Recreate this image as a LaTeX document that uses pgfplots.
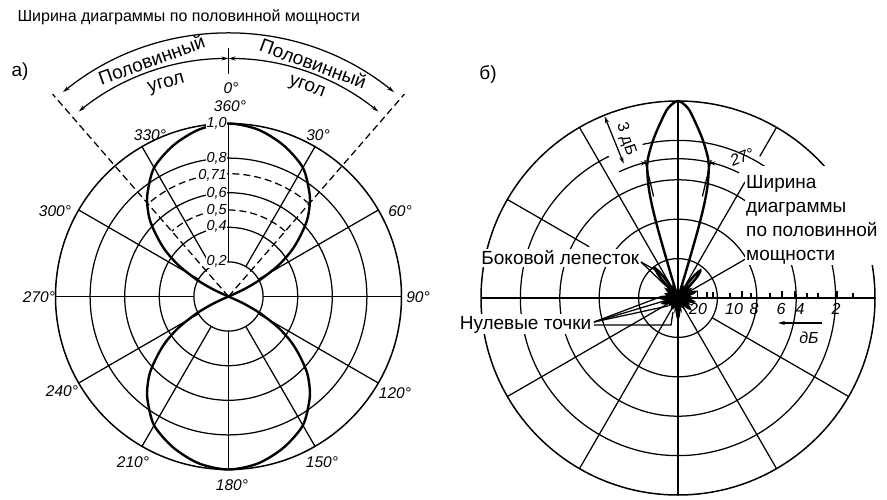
\documentclass[border=0pt]{standalone}
\usepackage{fontspec}
\setmainfont{Liberation Sans}
\usepackage{pgfplots}
\pgfplotsset{compat=1.18}
\usepgfplotslibrary{polar}
\usetikzlibrary{arrows.meta}
\newcommand\lab{\fontsize{19}{22}\selectfont}
\newcommand\ang{\fontsize{15.5}{18}\selectfont\itshape}
\newcommand\rl{\fontsize{14.5}{16}\selectfont\itshape}
\newcommand\db{\fontsize{16}{18}\selectfont\itshape}
\pgfplotsset{pat/.style={line width=2.4pt, smooth, tension=0.5, mark=none, x filter/.expression={90-x}}}
\begin{document}
\begin{tikzpicture}[x=1pt,y=1pt,
  gl/.style={line width=1.25pt},
  ar/.style={-{Stealth[length=7pt,width=4pt]}},
  arr/.style={{Stealth[length=7pt,width=4pt]}-{Stealth[length=7pt,width=4pt]}}]
\path[use as bounding box] (0,0) rectangle (887,499);

% ---------------- (a) ----------------
\begin{polaraxis}[at={(228.5pt,202.5pt)}, anchor=center, scale only axis,
  width=346pt, height=346pt, ymin=0, ymax=1, hide axis, clip=false]
\draw[gl] (axis cs:0,0.2) -- (axis cs:0,1);
\draw[gl] (axis cs:30,0.2) -- (axis cs:30,1);
\draw[gl] (axis cs:60,0.2) -- (axis cs:60,1);
\draw[gl] (axis cs:90,0.2) -- (axis cs:90,1);
\draw[gl] (axis cs:120,0.2) -- (axis cs:120,1);
\draw[gl] (axis cs:150,0.2) -- (axis cs:150,1);
\draw[gl] (axis cs:180,0.2) -- (axis cs:180,1);
\draw[gl] (axis cs:210,0.2) -- (axis cs:210,1);
\draw[gl] (axis cs:240,0.2) -- (axis cs:240,1);
\draw[gl] (axis cs:270,0.2) -- (axis cs:270,1);
\draw[gl] (axis cs:300,0.2) -- (axis cs:300,1);
\draw[gl] (axis cs:330,0.2) -- (axis cs:330,1);
\draw[gl] (axis cs:0,0) circle[radius=34.6pt];
\draw[gl] (axis cs:0,0) circle[radius=69.2pt];
\draw[gl] (axis cs:0,0) circle[radius=103.8pt];
\draw[gl] (axis cs:0,0) circle[radius=138.4pt];
\draw[line width=1.5pt] (axis cs:0,0) circle[radius=173pt];
\draw[gl,dash pattern=on 7pt off 4pt] (axis cs:0,0) -- (axis cs:49,1.55);
\draw[gl,dash pattern=on 7pt off 4pt] (axis cs:0,0) -- (axis cs:131,1.55);
\draw[gl,dash pattern=on 7pt off 4pt] (axis cs:49,0.5) arc[start angle=49,end angle=131,radius=86.5pt];
\draw[gl,dash pattern=on 7pt off 4pt] (axis cs:49,0.71) arc[start angle=49,end angle=131,radius=122.8pt];
\addplot[pat] coordinates {(-67,0) (-65,0.1) (-62,0.21) (-58,0.34) (-54,0.45) (-50,0.54) (-46,0.63) (-42,0.70) (-38,0.76) (-30,0.86) (-20,0.93) (-10,0.98) (0,1) (10,0.98) (20,0.93) (30,0.86) (38,0.76) (42,0.70) (46,0.63) (50,0.54) (54,0.45) (58,0.34) (62,0.21) (65,0.1) (67,0)};
\addplot[pat] coordinates {(113,0) (115,0.1) (118,0.21) (122,0.34) (126,0.45) (130,0.54) (134,0.63) (138,0.70) (142,0.76) (150,0.86) (160,0.93) (170,0.98) (180,1) (190,0.98) (200,0.93) (210,0.86) (218,0.76) (222,0.70) (226,0.63) (230,0.54) (234,0.45) (238,0.34) (242,0.21) (245,0.1) (247,0)};
\end{polaraxis}

% (a) labels
\node[anchor=base west] at (14,477) {\fontsize{16}{19}\selectfont Ширина диаграммы по половинной мощности};
\node at (20,427) {\lab а)};
\node at (488,424) {\lab б)};
\node at (231,411) {\ang 0°};
\node at (230,393) {\ang 360°};
\node at (150,364) {\ang 330°};
\node at (318,364) {\ang 30°};
\node at (55,288) {\ang 300°};
\node at (400,288) {\ang 60°};
\node at (39,202) {\ang 270°};
\node at (418,202) {\ang 90°};
\node at (62,108) {\ang 240°};
\node at (395,106) {\ang 120°};
\node at (133,37) {\ang 210°};
\node at (322,37) {\ang 150°};
\node at (232,14) {\ang 180°};
\node[anchor=east,fill=white,inner sep=0.6pt] at (227.5,376) {\rl 1,0};
\node[anchor=east,fill=white,inner sep=0.6pt] at (227.5,341) {\rl 0,8};
\node[anchor=east,fill=white,inner sep=0.6pt] at (227.5,324) {\rl 0,71};
\node[anchor=east,fill=white,inner sep=0.6pt] at (227.5,306) {\rl 0,6};
\node[anchor=east,fill=white,inner sep=0.6pt] at (227.5,289) {\rl 0,5};
\node[anchor=east,fill=white,inner sep=0.6pt] at (227.5,273) {\rl 0,4};
\node[anchor=east,fill=white,inner sep=0.6pt] at (227.5,238) {\rl 0,2};
\begin{scope}[shift={(228.5,202.5)}]
  \draw[gl,arr] (129:263) arc[start angle=129,end angle=51,radius=263pt];
  \draw[gl,arr] (129:238) arc[start angle=129,end angle=90,radius=238pt];
  \draw[gl,arr] (90:238) arc[start angle=90,end angle=51,radius=238pt];
  \draw[gl] (90:222) -- (90:248);
  \node[rotate=20,inner sep=0pt] at (108:249) {\lab Половинный};
  \node[rotate=-20,inner sep=0pt] at (70:248) {\lab Половинный};
  \node[rotate=16,inner sep=0pt] at (106.3:221) {\lab угол};
  \node[rotate=-20,inner sep=0pt] at (69.5:223) {\lab угол};
\end{scope}

% ---------------- (b) ----------------
\begin{polaraxis}[at={(678pt,201pt)}, anchor=center, scale only axis,
  width=394pt, height=394pt, ymin=0, ymax=1, hide axis, clip=false]
\draw[gl] (axis cs:0,0) circle[radius=39.4pt];
\draw[gl] (axis cs:0,0) circle[radius=78.8pt];
\draw[gl] (axis cs:0,0) circle[radius=118.2pt];
\draw[gl] (axis cs:103,0.8) arc[start angle=103,end angle=-244,radius=157.6pt];
\draw[line width=1.5pt] (axis cs:0,0) circle[radius=197pt];
\draw[gl] (axis cs:90,0) -- (axis cs:90,1);
\draw[gl] (axis cs:60,0) -- (axis cs:60,0.68);
\draw[gl] (axis cs:60,0.83) -- (axis cs:60,1);
\draw[gl] (axis cs:30,0) -- (axis cs:30,1);
\draw[gl] (axis cs:0,0) -- (axis cs:0,1);
\draw[gl] (axis cs:180,0) -- (axis cs:180,1);
\draw[gl] (axis cs:-30,0.2) -- (axis cs:-30,1);
\draw[gl] (axis cs:-60,0) -- (axis cs:-60,1);
\draw[gl] (axis cs:-90,0) -- (axis cs:-90,1);
\draw[gl] (axis cs:-120,0) -- (axis cs:-120,1);
\draw[gl] (axis cs:-150,0) -- (axis cs:-150,1);
\draw[gl] (axis cs:150,0.52) -- (axis cs:150,1);
\draw[gl] (axis cs:120,0) -- (axis cs:120,1);
% half power
\draw[gl] (axis cs:103.5,0.53) -- (axis cs:103.5,0.72);
\draw[gl] (axis cs:76.5,0.53) -- (axis cs:76.5,0.72);
\draw[gl,ar] (axis cs:115,0.707) arc[start angle=115,end angle=102.6,radius=139.3pt];
\draw[gl] (axis cs:102.6,0.707) arc[start angle=102.6,end angle=77.4,radius=139.3pt];
\draw[gl,ar] (axis cs:64,0.707) arc[start angle=64,end angle=77.4,radius=139.3pt];
\draw[gl,arr] (axis cs:112,0.995) -- (axis cs:112,0.735);
% dB scale ticks
\draw[gl] (axis cs:0,0.10) -- ++(0pt,7pt);
\draw[gl] (axis cs:0,0.147) -- ++(0pt,6pt);
\draw[gl] (axis cs:0,0.178) -- ++(0pt,6pt);
\draw[gl] (axis cs:0,0.264) -- ++(0pt,5pt);
\draw[gl] (axis cs:0,0.325) -- ++(0pt,7pt);
\draw[gl] (axis cs:0,0.37) -- ++(0pt,5pt);
\draw[gl] (axis cs:0,0.40) -- ++(0pt,7pt);
\draw[gl] (axis cs:0,0.467) -- ++(0pt,5pt);
\draw[gl] (axis cs:0,0.528) -- ++(0pt,7pt);
\draw[gl] (axis cs:0,0.594) -- ++(0pt,7pt);
\draw[gl] (axis cs:0,0.655) -- ++(0pt,5pt);
\draw[gl] (axis cs:0,0.711) -- ++(0pt,5pt);
\draw[gl] (axis cs:0,0.807) -- ++(0pt,7pt);
\draw[gl] (axis cs:0,0.888) -- ++(0pt,5pt);
\addplot[pat] coordinates {(-172,0) (-169,0.03) (-166,0.04) (-163,0.03)
 (-160,0) (-155,0.045) (-150,0.06) (-145,0.045)
 (-140,0) (-135,0.035) (-130,0.05) (-125,0.035)
 (-120,0) (-114,0.06) (-109,0.08) (-104,0.06)
 (-98,0) (-94,0.065) (-89,0.09) (-84,0.065)
 (-80,0) (-75,0.045) (-71,0.06) (-67,0.045)
 (-62,0) (-57,0.05) (-53,0.07) (-49,0.05)
 (-44,0) (-42,0.1) (-40,0.16) (-37.5,0.19) (-35,0.15) (-32.5,0.08)
 (-30,0) (-27,0.035) (-23.5,0.05) (-20,0.035)
 (-17,0) (-16.8,0.12) (-16.5,0.25) (-16.2,0.38) (-15.6,0.5) (-14.6,0.6) (-12.6,0.71) (-9,0.81) (-5.5,0.9) (-3,0.965) (0,1) (3,0.965) (5.5,0.9) (9,0.81) (12.6,0.71) (14.6,0.6) (15.6,0.5) (16.2,0.38) (16.5,0.25) (16.8,0.12) (17,0)
 (20,0.035) (24,0.05) (28,0.035)
 (31,0) (33.5,0.08) (36,0.14) (39,0.18) (42,0.15) (44,0.08)
 (46,0) (50,0.05) (54,0.07) (58,0.05)
 (62,0) (66,0.065) (70,0.09) (74,0.065)
 (78,0) (82,0.045) (86,0.06) (90,0.045)
 (95,0) (99,0.06) (103,0.08) (107,0.06)
 (112,0) (115,0.035) (118,0.05) (121,0.035)
 (124,0) (128,0.06) (132,0.08) (136,0.06)
 (140,0) (145,0.035) (150,0.05) (155,0.035)
 (160,0) (163,0.03) (166,0.04) (169,0.03)
 (172,0) (175,0.07) (180,0.1) (185,0.07) (188,0)};
\end{polaraxis}

% (b) labels
\fill[white] (745,333) rectangle (887,234);
\node[anchor=base west,inner sep=0pt] at (746,310) {\lab Ширина};
\node[anchor=base west,inner sep=0pt] at (746,286) {\lab диаграммы};
\node[anchor=base west,inner sep=0pt] at (746,262) {\lab по половинной};
\node[anchor=base west,inner sep=0pt] at (746,238) {\lab мощности};
\node[anchor=base east,fill=white,inner sep=1.5pt] at (641,234) {\lab Боковой лепесток};
\node[anchor=base east,fill=white,inner sep=1.5pt] at (593,170) {\lab Нулевые точки};
\draw[gl] (641,237) -- (657,228);
\draw[gl] (641,237) -- (666,213);
\draw[gl] (594,177) -- (660,202);
\draw[gl] (594,177) -- (664,198);
\draw[gl] (594,177) -- (668,193);
\draw[gl] (594,174) -- (671,174) -- (673,187);
\node[anchor=north,inner sep=1pt] at (698,197) {\db 20};
\node[anchor=north,inner sep=1pt] at (734,197) {\db 10};
\node[anchor=north,inner sep=1pt] at (754,197) {\db 8};
\node[anchor=north,inner sep=1pt] at (781,197) {\db 6};
\node[anchor=north,inner sep=1pt] at (800,197) {\db 4};
\node[anchor=north,inner sep=1pt] at (836,197) {\db 2};
\draw[gl,ar] (822,176) -- (778,176);
\node at (809,161) {\db дБ};
\node[rotate=-72] at (626,360) {\fontsize{16}{18}\selectfont 3 дБ};
\node[rotate=22] at (742,342) {\db 27°};
\end{tikzpicture}
\end{document}
